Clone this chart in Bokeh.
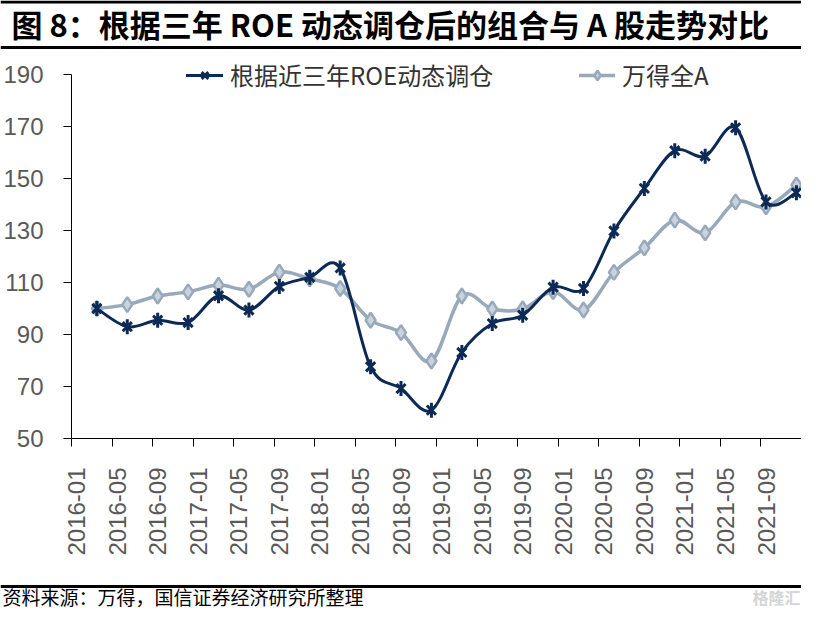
import numpy as np
from bokeh.plotting import figure
from bokeh.models import Range1d, FixedTicker, Legend, LegendItem
from bokeh.layouts import column
from bokeh.embed import file_html
from bokeh.resources import INLINE
from bokeh.core.properties import value

# ---------------- data ----------------
title_text = "图 8：根据三年 ROE 动态调仓后的组合与 A 股走势对比"
source_text = "资料来源：万得，国信证券经济研究所整理"
watermark_text = "格隆汇"
roe_name = "根据近三年ROE动态调仓"
wind_name = "万得全A"

dates = ["2016-03", "2016-06", "2016-09", "2016-12",
         "2017-03", "2017-06", "2017-09", "2017-12",
         "2018-03", "2018-06", "2018-09", "2018-12",
         "2019-03", "2019-06", "2019-09", "2019-12",
         "2020-03", "2020-06", "2020-09", "2020-12",
         "2021-03", "2021-06", "2021-09", "2021-12"]
roe_values = [100.0, 93.0, 95.5, 94.6, 104.9, 99.4, 108.5, 112.0,
              115.6, 77.6, 69.2, 60.9, 83.1, 94.2, 97.4, 108.2,
              107.7, 129.8, 146.2, 160.7, 158.6, 169.5, 141.0, 144.5]
wind_a_values = [100.0, 101.5, 104.8, 106.4, 109.0, 107.4, 114.0, 111.4,
                 107.7, 95.5, 90.7, 79.8, 104.8, 99.8, 99.8, 106.5,
                 99.4, 113.9, 123.3, 134.0, 129.1, 141.0, 139.1, 147.5]
xtick_labels = ["2016-01", "2016-05", "2016-09", "2017-01", "2017-05", "2017-09",
                "2018-01", "2018-05", "2018-09", "2019-01", "2019-05", "2019-09",
                "2020-01", "2020-05", "2020-09", "2021-01", "2021-05", "2021-09"]
axis_end = "2022-01"
yticks = [50, 70, 90, 110, 130, 150, 170, 190]

DARK = "#0C2A55"
GREY = "#97A9BB"
GREY_FILL = "#C9D3DD"


def month_index(s):
    y, m = s.split("-")
    return (int(y) - 2016) * 12 + int(m) - 1


def bezier_parts(xs, ys, t=1.0 / 6.0):
    xs = np.asarray(xs, float)
    ys = np.asarray(ys, float)
    n = len(xs)
    xp = np.concatenate([[xs[0]], xs, [xs[-1]]])
    yp = np.concatenate([[ys[0]], ys, [ys[-1]]])
    return dict(
        x0=xs[:-1], y0=ys[:-1], x1=xs[1:], y1=ys[1:],
        cx0=xs[:-1] + (xp[2:n + 1] - xp[0:n - 1]) * t,
        cy0=ys[:-1] + (yp[2:n + 1] - yp[0:n - 1]) * t,
        cx1=xs[1:] - (xp[3:n + 2] - xp[1:n]) * t,
        cy1=ys[1:] - (yp[3:n + 2] - yp[1:n]) * t,
    )


def no_align(fig):
    try:
        fig.frame_align = False
    except Exception:
        pass


x_pts = [month_index(d) + 0.5 for d in dates]
tick_bounds = [month_index(s) for s in xtick_labels] + [month_index(axis_end)]
label_pos = [month_index(s) + 0.5 for s in xtick_labels]

W = 801
H_HEAD, H_MAIN, H_FOOT = 50, 520, 40
TOP_BORDER = 2
FRAME_H = 386
Y_TOP = 50 + FRAME_H / 2.6   # headroom above 190 so the legend is not clipped

# ---------------- header ----------------
header = figure(width=W, height=H_HEAD, x_range=Range1d(0, W), y_range=Range1d(H_HEAD, 0),
                min_border=0, toolbar_location=None, output_backend="svg")
no_align(header)
header.axis.visible = False
header.grid.visible = False
header.outline_line_color = None
header.segment(x0=[0, 0], y0=[1.5, 47], x1=[W, W], y1=[1.5, 47],
               line_color="black", line_width=3)
header.text(x=[11], y=[22.5], text=[title_text], text_font=value("Noto Sans CJK SC"),
            text_font_style="bold", text_font_size="31px", text_baseline="middle",
            text_align="left", text_color="black")

# ---------------- main plot ----------------
p = figure(width=W, height=H_MAIN, x_range=Range1d(0, month_index(axis_end)),
           y_range=Range1d(50, Y_TOP), min_border_left=69, min_border_right=0,
           min_border_top=TOP_BORDER, min_border_bottom=H_MAIN - TOP_BORDER - FRAME_H,
           toolbar_location=None, output_backend="svg")
no_align(p)
p.grid.visible = False
p.outline_line_color = None

xa = p.xaxis[0]
xa.ticker = FixedTicker(ticks=label_pos, minor_ticks=tick_bounds)
xa.major_label_overrides = {pos: lab for pos, lab in zip(label_pos, xtick_labels)}
xa.major_label_orientation = np.pi / 2
xa.major_tick_line_color = None
xa.major_tick_out = 0
xa.major_tick_in = 0
xa.minor_tick_line_color = "black"
xa.minor_tick_out = 8
xa.minor_tick_in = 0
xa.axis_line_color = "black"
xa.major_label_standoff = 21
xa.major_label_text_font = "Liberation Sans"
xa.major_label_text_font_size = "24px"
xa.major_label_text_color = "#595959"

ya = p.yaxis[0]
ya.ticker = FixedTicker(ticks=yticks)
ya.bounds = (yticks[0], yticks[-1])
ya.major_label_text_font = "Liberation Sans"
ya.major_label_text_font_size = "24px"
ya.major_label_text_color = "#595959"
ya.major_label_standoff = 20
ya.major_tick_out = 8
ya.major_tick_in = 0
ya.minor_tick_line_color = None
ya.axis_line_color = "black"
ya.major_tick_line_color = "black"

# grey series (Wind All A)
bw = bezier_parts(x_pts, wind_a_values)
wind_curve = p.bezier(line_color=GREY, line_width=3.5, line_cap="round", **bw)
wind_mk = p.scatter(x_pts, wind_a_values, marker="diamond", size=15,
                    fill_color=GREY_FILL, line_color=GREY, line_width=2.5)

# dark series (ROE)
br = bezier_parts(x_pts, roe_values)
roe_curve = p.bezier(line_color=DARK, line_width=3, line_cap="round", **br)
roe_x = p.scatter(x_pts, roe_values, marker="x", size=13, line_color=DARK, line_width=3)
roe_v = p.scatter(x_pts, roe_values, marker="dash", angle=np.pi / 2, size=15,
                  line_color=DARK, line_width=3)

common = dict(orientation="horizontal", padding=0, margin=0, spacing=0,
              border_line_color=None, background_fill_alpha=0,
              glyph_height=24, label_height=24, label_standoff=7,
              label_text_font="Noto Sans CJK SC", label_text_font_size="24px",
              label_text_color="#333333", label_text_baseline="middle")
leg1 = Legend(items=[LegendItem(label=roe_name, renderers=[roe_curve, roe_x, roe_v])],
              location=(115, 346), glyph_width=37, **common)
leg2 = Legend(items=[LegendItem(label=wind_name, renderers=[wind_curve, wind_mk])],
              location=(508, 346), glyph_width=36, **common)
p.add_layout(leg1)
p.add_layout(leg2)

# ---------------- footer ----------------
footer = figure(width=W, height=H_FOOT, x_range=Range1d(0, W), y_range=Range1d(H_FOOT, 0),
                min_border=0, toolbar_location=None, output_backend="svg")
no_align(footer)
footer.axis.visible = False
footer.grid.visible = False
footer.outline_line_color = None
footer.segment(x0=[0], y0=[16], x1=[W], y1=[16], line_color="black", line_width=3)
footer.text(x=[2], y=[26], text=[source_text], text_font=value("Noto Sans CJK SC"),
            text_font_size="19px", text_baseline="middle", text_align="left",
            text_color="black")
footer.text(x=[800], y=[26], text=[watermark_text], text_font=value("Noto Sans CJK SC"),
            text_font_size="16px", text_baseline="middle", text_align="right",
            text_color="#D4D4D4", text_font_style="bold")

layout = column(header, p, footer, spacing=0)
open("out.html", "w").write(file_html(layout, INLINE))
